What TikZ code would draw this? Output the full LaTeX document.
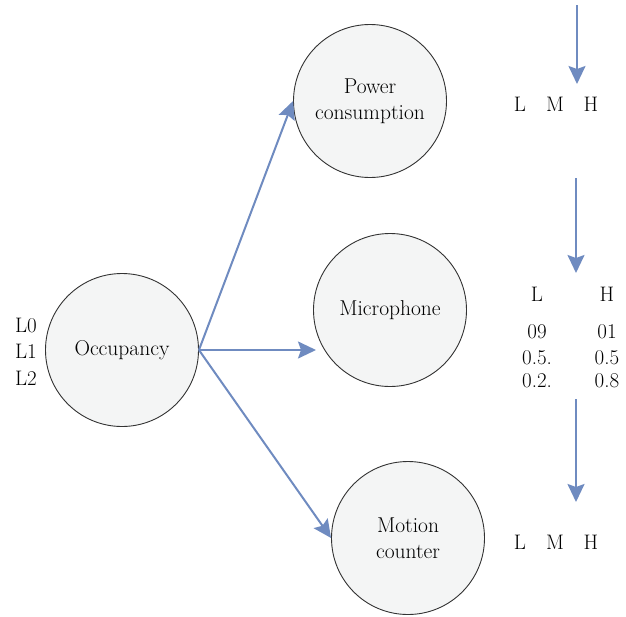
\documentclass[tikz,border=0pt]{standalone}
\usepackage{fontspec}
\setmainfont{Latin Modern Roman}
\usetikzlibrary{arrows.meta}
\definecolor{arrowblue}{HTML}{6F8BC0}
\definecolor{circfill}{HTML}{F4F5F5}
\definecolor{circline}{HTML}{333333}
\tikzset{
  state/.style={circle, draw=circline, fill=circfill, line width=0.9pt, minimum size=153pt, inner sep=0pt, align=center, font=\fontsize{21.5}{26}\selectfont, text=black},
  conn/.style={draw=arrowblue, line width=2pt, -{Stealth[length=18pt,width=17pt,inset=3pt]}},
  lbl/.style={font=\fontsize{21}{23}\selectfont, text=black, inner sep=0pt}
}
\begin{document}
\begin{tikzpicture}[x=1pt,y=-1pt]
\useasboundingbox (0,0) rectangle (626,616);
\node[state] (occ) at (122,350) {Occupancy};
\node[state] (pow) at (370,101) {Power\\consumption};
\node[state] (mic) at (390,310) {Microphone};
\node[state] (mot) at (408,538) {Motion\\counter};
\coordinate (micin) at (316,350);
\draw[conn] (occ.east) -- (pow.west);
\draw[conn] (occ.east) -- (micin);
\draw[conn] (occ.east) -- (mot.west);
% left labels
\node[lbl] (l0) at (26,325) {L0};
\node[lbl] (l1) at (26,351) {L1};
\node[lbl] (l2) at (26,378) {L2};
% top right
\coordinate (a1s) at (577,5);
\coordinate (a1e) at (577,84);
\draw[conn] (a1s) -- (a1e);
\node[lbl] (pl) at (520,104) {L};
\node[lbl] (pm) at (555,104) {M};
\node[lbl] (ph) at (591,104) {H};
% middle right
\coordinate (a2s) at (576,178);
\coordinate (a2e) at (576,273);
\draw[conn] (a2s) -- (a2e);
\node[lbl] (ml) at (537,294) {L};
\node[lbl] (mh) at (607,294) {H};
\node[lbl] (m1l) at (537,332) {09};
\node[lbl] (m1h) at (607,332) {01};
\node[lbl] (m2l) at (537,358) {0.5.};
\node[lbl] (m2h) at (607,358) {0.5};
\node[lbl] (m3l) at (537,381) {0.2.};
\node[lbl] (m3h) at (607,381) {0.8};
% bottom right
\coordinate (a3s) at (576,399);
\coordinate (a3e) at (576,502);
\draw[conn] (a3s) -- (a3e);
\node[lbl] (bl) at (520,542) {L};
\node[lbl] (bm) at (555,542) {M};
\node[lbl] (bh) at (591,542) {H};
\end{tikzpicture}
\end{document}
